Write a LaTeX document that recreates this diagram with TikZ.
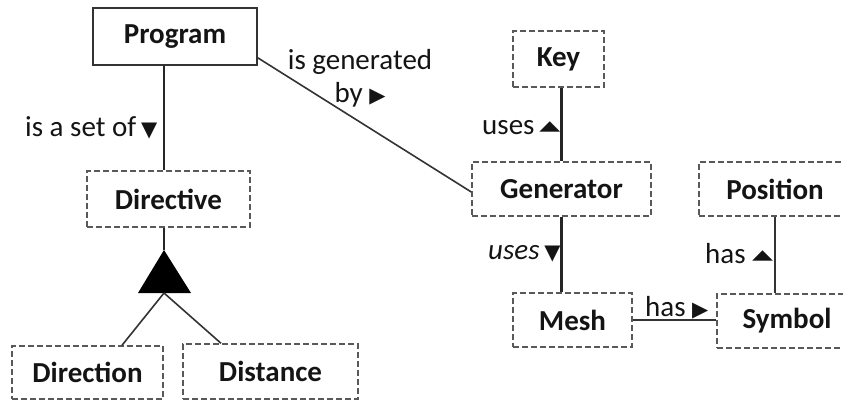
\documentclass[tikz,border=0pt]{standalone}
\usepackage{fontspec}
\setmainfont{Carlito}
\newfontfamily\symfont{DejaVu Sans}
\usetikzlibrary{calc}
% small filled triangles that give the reading direction of a role name
\newcommand\relmark[1]{{\symfont\fontsize{21}{21}\selectfont #1}}
\newcommand\flatmark[1]{\raisebox{4pt}{\scalebox{1.3}[0.65]{\relmark{#1}}}}
\begin{document}
\begin{tikzpicture}[x=1pt,y=-1pt,
  every node/.style={font=\fontsize{29}{33}\selectfont, text=black!92},
  entity/.style={draw=black!65, line width=1.4pt, dash pattern=on 6pt off 3pt,
    inner sep=0pt, font=\fontsize{29}{33}\selectfont\bfseries},
  solidbox/.style={draw=black!80, line width=1.8pt, inner sep=0pt,
    font=\fontsize{29}{33}\selectfont\bfseries},
  link/.style={draw=black!85, line width=2.2pt},
  thinlink/.style={draw=black!80, line width=1.6pt},
  role/.style={inner sep=0pt, anchor=west}]
\useasboundingbox (0,0) rectangle (843,401);
\clip (0,0) rectangle (843,401);

% classes
\node[solidbox, minimum width=164pt, minimum height=57pt] (program)  at (175,36.5) {Program};
\node[entity, minimum width=163pt, minimum height=56pt]   (directive) at (168.5,199) {Directive};
\node[entity, minimum width=151pt, minimum height=53pt]   (direction) at (87.5,372.5) {Direction};
\node[entity, minimum width=175pt, minimum height=55pt]   (distance)  at (270.5,371.5) {Distance};
\node[entity, minimum width=91pt, minimum height=56pt]    (key)       at (558.5,59) {Key};
\node[entity, minimum width=179pt, minimum height=54pt]   (generator) at (561.5,189) {Generator};
\node[entity, minimum width=152pt, minimum height=54pt]   (position)  at (775,189) {Position};
\node[entity, minimum width=119pt, minimum height=54pt]   (mesh)      at (572.5,320) {Mesh};
\node[entity, minimum width=140pt, minimum height=54pt]   (symbol)    at (787,321) {Symbol};

% generalisation triangle under Directive
\coordinate (apex) at (164,250);
\coordinate (basemid) at (164,293);
\fill[black] (apex) -- (138,293) -- (191,293) -- cycle;

% associations
\draw[link] (program.south -| apex) -- (directive.north -| apex);
\draw[link] (directive.south -| apex) -- (apex);
\draw[thinlink] (basemid) -- ($(direction.north)+(34.5,0)$);
\draw[thinlink] (basemid) -- ($(distance.north)+(-49.5,0)$);
\draw[thinlink] ($(program.south east)+(0,-8)$) -- ($(generator.west)+(0,3)$);
\draw[link] (key.south -| generator.north) -- (generator.north);
\draw[link] (generator.south) -- (mesh.north -| generator.south);
\draw[thinlink] (position.south) -- (symbol.north -| position.south);
\draw[thinlink] (mesh.east) -- (symbol.west |- mesh.east);

% role names
\node[role] (setof) at (25,128) {is a set of\,\relmark{▼}};
\node[align=center, inner sep=0pt] (genby) at (360,78) {is generated\\by \relmark{▶}};
\node[role] (usekey) at (482,128) {uses\,\flatmark{▲}};
\node[role] (usemesh) at (488,254) {\itshape uses\,\relmark{▼}};
\node[role] (haspos) at (705,254) {has \flatmark{▲}};
\node[role] (hassym) at (645,308) {has \relmark{▶}};
\end{tikzpicture}
\end{document}
